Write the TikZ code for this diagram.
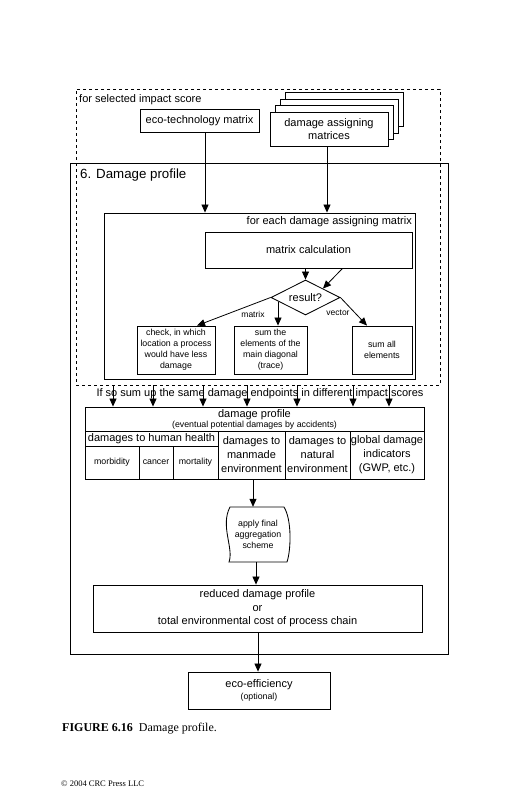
\documentclass[tikz,border=0pt]{standalone}
\usepackage{fontspec}
\setmainfont{Liberation Sans}
\newfontfamily\capfont{Liberation Serif}
\usetikzlibrary{arrows.meta,shapes.geometric,calc}
\begin{document}
\begin{tikzpicture}[x=1pt,y=-1pt,
  box/.style={draw, line width=0.85pt, inner sep=1pt, align=center, font=\fontsize{11}{14}\selectfont},
  smallbox/.style={box, font=\fontsize{8.8}{11}\selectfont},
  cell/.style={draw, line width=0.9pt, inner sep=0pt, align=center, font=\fontsize{11}{14}\selectfont},
  arr/.style={-{Triangle[length=8pt,width=7pt]}, line width=0.8pt},
  lbl/.style={inner sep=0pt, font=\fontsize{11}{13}\selectfont},
  slbl/.style={inner sep=0pt, font=\fontsize{8.5}{10}\selectfont}]
\useasboundingbox (0,0) rectangle (518,800);

% outer solid box and dashed box
\node[draw, line width=1pt, minimum width=378pt, minimum height=491pt, inner sep=0pt] (outer) at (259,408.5) {};
\node[draw, dashed, line width=0.8pt, minimum width=364pt, minimum height=296pt, inner sep=0pt] (sel) at (258,237) {};
\node[lbl, anchor=west] (selt) at (79,100) {for selected impact score};
\node[inner sep=0pt, anchor=west, font=\fontsize{13.3}{15}\selectfont] (dpt) at (80,175) {6. Damage profile};

% top boxes
\node[box, minimum width=119pt, minimum height=23pt] (eco) at (199.5,120.5) {eco-technology matrix};
\foreach \k in {3,2,1}{
  \node[box, fill=white, minimum width=118pt, minimum height=34pt] (dam\k) at ($(329,129)+(5*\k,-6.5*\k)$) {};
}
\node[box, fill=white, minimum width=118pt, minimum height=34pt, font=\fontsize{11}{13.5}\selectfont] (dam) at (329,129) {damage assigning\\matrices};

% inner box
\node[draw, line width=0.9pt, minimum width=311pt, minimum height=166pt, inner sep=0pt] (inner) at (259.5,296) {};
\node[lbl, anchor=east] (innt) at (412,222) {for each damage assigning matrix};
\node[box, minimum width=207pt, minimum height=36pt] (calc) at (308.5,250) {matrix calculation};
\node[draw, diamond, line width=0.85pt, minimum width=69pt, minimum height=35pt, inner sep=0pt, aspect=2, font=\fontsize{11}{13}\selectfont] (res) at (305.5,297.5) {result?};
\node[smallbox, minimum width=78pt, minimum height=48pt] (check) at (176,350) {check, in which\\location a process\\would have less\\damage};
\node[smallbox, minimum width=73pt, minimum height=48pt] (trace) at (270.5,350) {sum the\\elements of the\\main diagonal\\(trace)};
\node[smallbox, minimum width=60pt, minimum height=48pt] (sumall) at (382,350) {sum all\\elements};

\draw[arr] ([xshift=5.5pt]eco.south) -- ([xshift=5.5pt]eco.south |- inner.north);
\draw[arr] ([xshift=-2pt]dam.south) -- ([xshift=-2pt]dam.south |- inner.north);
\draw[arr] (res.north |- calc.south) -- (res.north);
\coordinate (c2) at ($(calc.south)+(34,0)$);
\draw[arr] (c2) -- (res.north east);
\draw[arr] (res.west) -- ([xshift=21pt]check.north);
\coordinate (t0) at ($(trace.north)+(7.5,-24)$);
\draw[arr] (t0) -- ([xshift=7.5pt]trace.north);
\draw[arr] (res.east) -- ([xshift=-15pt]sumall.north);
\node[slbl] (mlab) at (253,314) {matrix};
\node[slbl] (vlab) at (338,313) {vector};

% damage profile table
\node[cell, minimum width=339pt, minimum height=24pt, font=\fontsize{11}{11}\selectfont] (prof) at (254.5,419) {damage profile\\[-1pt]{\fontsize{8.8}{9}\selectfont (eventual potential damages by accidents)}};
\node[cell, minimum width=133pt, minimum height=15pt] (hh) at (151.5,438.5) {damages to human health};
\node[cell, minimum width=54pt, minimum height=33pt, font=\fontsize{8.8}{10}\selectfont] (morb) at (112,462.5) {morbidity};
\node[cell, minimum width=34pt, minimum height=33pt, font=\fontsize{8.8}{10}\selectfont] (canc) at (156,462.5) {cancer};
\node[cell, minimum width=45pt, minimum height=33pt, font=\fontsize{8.8}{10}\selectfont] (mort) at (195.5,462.5) {mortality};
\node[cell, minimum width=67pt, minimum height=48pt] (man) at (251.5,455) {damages to\\manmade\\environment};
\node[cell, minimum width=65pt, minimum height=48pt] (nat) at (317.5,455) {damages to\\natural\\environment};
\node[cell, minimum width=74pt, minimum height=48pt] (glob) at (387,455) {global damage\\indicators\\(GWP, etc.)};

% summation arrows
\foreach \x [count=\i] in {113,153,203,247,297,353,389}{
  \coordinate (s\i) at (\x,385);
  \draw[arr] (s\i) -- (s\i |- prof.north);
}
\node[lbl] (sumt) at (260,394) {If so sum up the same damage endpoints in different impact scores};

% aggregation scheme
\node[inner sep=0pt, align=center, font=\fontsize{8.8}{11}\selectfont, minimum width=56pt, minimum height=55pt] (agg) at (258,534.5) {apply final\\aggregation\\scheme};
\draw[line width=0.85pt] (230,507) -- (284,507) .. controls (292,520) and (291,550) .. (287,562) -- (229,562) .. controls (234,548) and (220,526) .. (230,507) -- cycle;
\draw[arr] ([xshift=1.5pt]man.south) -- ([xshift=1.5pt]man.south |- agg.north);

\node[box, minimum width=329pt, minimum height=47pt, font=\fontsize{11}{13.5}\selectfont] (red) at (257.5,608.5) {reduced damage profile\\or\\total environmental cost of process chain};
\draw[arr] ([xshift=-2pt]agg.south) -- ([xshift=-2pt]agg.south |- red.north);

\node[box, minimum width=142pt, minimum height=37pt, font=\fontsize{11}{12}\selectfont] (eff) at (259,690.5) {eco-efficiency\\{\fontsize{8.8}{10}\selectfont (optional)}};
\draw[arr] ([xshift=-1pt]red.south -| eff.north) -- ([xshift=-1pt]eff.north);

% caption
\node[inner sep=0pt, anchor=west, font=\capfont\fontsize{12}{14}\selectfont] (cap) at (62,729) {\textbf{FIGURE 6.16}\enspace Damage profile.};
\node[inner sep=0pt, anchor=west, font=\capfont\fontsize{8.5}{10}\selectfont] (copy) at (61,784) {\textcopyright{} 2004 CRC Press LLC};
\end{tikzpicture}
\end{document}
